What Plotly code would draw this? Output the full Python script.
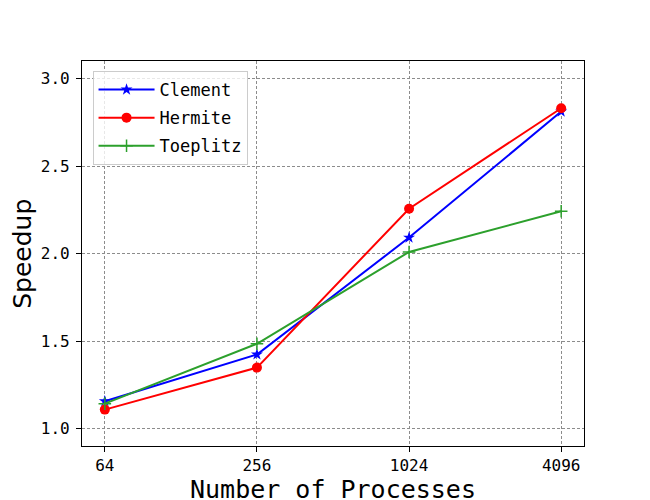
import plotly.graph_objects as go

processes = ["64", "256", "1024", "4096"]
clement = [1.156, 1.423, 2.091, 2.811]
hermite = [1.108, 1.348, 2.256, 2.830]
toeplitz = [1.142, 1.484, 2.009, 2.241]

mono = "DejaVu Sans Mono"

fig = go.Figure()
fig.add_trace(go.Scatter(x=processes, y=clement, name="Clement", mode="lines+markers",
                         line=dict(color="#0000ff", width=2),
                         marker=dict(symbol="star", size=9, color="#0000ff"),
                         legendgroup="a"))
fig.add_trace(go.Scatter(x=processes, y=hermite, name="Hermite", mode="lines+markers",
                         line=dict(color="#ff0000", width=2),
                         marker=dict(symbol="circle", size=10, color="#ff0000"),
                         legendgroup="b"))
fig.add_trace(go.Scatter(x=processes, y=toeplitz, name="Toeplitz", mode="lines+markers",
                         line=dict(color="#2ca02c", width=2),
                         marker=dict(symbol="cross-thin", size=9,
                                     line=dict(color="#2ca02c", width=1.5)),
                         legendgroup="c"))

axis_common = dict(showline=True, linecolor="black", linewidth=1.2, mirror=True,
                   ticks="outside", ticklen=5, tickcolor="black", tickwidth=1,
                   showgrid=True, gridcolor="#8c8c8c", griddash="3px,2px", gridwidth=0.6,
                   zeroline=False,
                   tickfont=dict(family=mono, size=16, color="black"))

fig.update_layout(
    width=642, height=492,
    margin=dict(l=74, r=65.5, t=52.7, b=54.3, autoexpand=False),
    paper_bgcolor="white", plot_bgcolor="white",
    xaxis=dict(type="category", range=[-0.15, 3.15], **axis_common),
    yaxis=dict(range=[0.9, 3.1], tickvals=[1.0, 1.5, 2.0, 2.5, 3.0], tickformat=".1f",
               ticklabelstandoff=3, **axis_common),
    legend=dict(x=0.021, y=0.974, xanchor="left", yanchor="top",
                bgcolor="rgba(255,255,255,0.8)", bordercolor="#cccccc", borderwidth=1,
                font=dict(family=mono, size=17, color="black"),
                itemwidth=56,
                traceorder="grouped", tracegroupgap=3),
    showlegend=True,
    annotations=[
        dict(text="Number of Processes", xref="paper", yref="paper", x=0.5, y=-0.113,
             xanchor="center", yanchor="middle", showarrow=False,
             font=dict(family=mono, size=25, color="black")),
        dict(text="Speedup", xref="paper", yref="paper", x=-0.119, y=0.5,
             xanchor="center", yanchor="middle", showarrow=False, textangle=-90,
             font=dict(family="DejaVu Sans", size=25, color="black")),
    ],
)

fig.write_html("out.html")
